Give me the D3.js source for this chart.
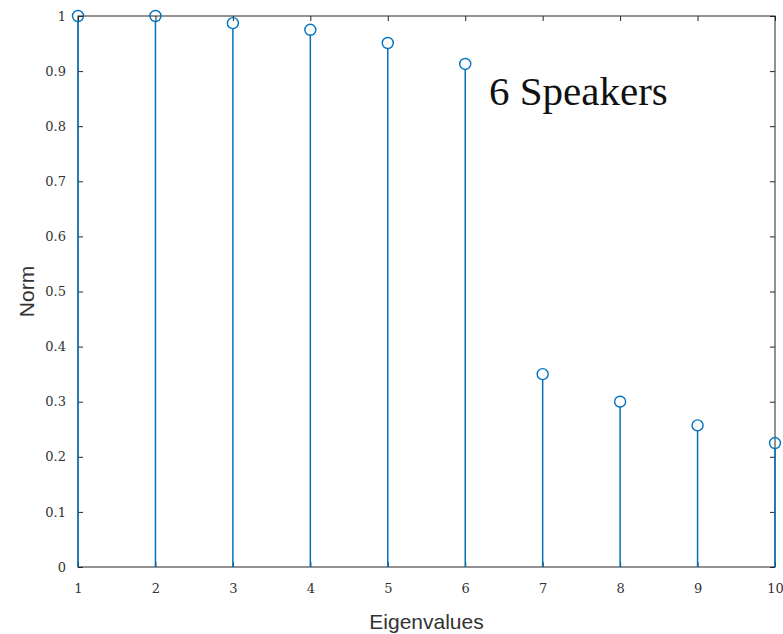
<!DOCTYPE html>
<html><head><meta charset="utf-8">
<script src="https://d3js.org/d3.v7.min.js"></script>
<style>body{margin:0;background:#fff;}svg{display:block;}</style>
</head><body>
<script>
const categories = [1,2,3,4,5,6,7,8,9,10];
const normValues = [1.0, 1.0, 0.987, 0.975, 0.951, 0.913, 0.350, 0.300, 0.257, 0.225];
const yTicks = [0,0.1,0.2,0.3,0.4,0.5,0.6,0.7,0.8,0.9,1];
const xTicks = [1,2,3,4,5,6,7,8,9,10];

const W=783,H=634;
const m={left:78,top:16,right:775,bottom:567};
const svg=d3.select("body").append("svg").attr("width",W).attr("height",H);
const x=d3.scaleLinear().domain([1,10]).range([m.left,m.right]);
const y=d3.scaleLinear().domain([0,1]).range([m.bottom,m.top]);
const axisColor="#262626", stemColor="#0072BD";
const tickFont="'DejaVu Serif', serif";

svg.append("rect").attr("x",m.left).attr("y",m.top).attr("width",m.right-m.left).attr("height",m.bottom-m.top)
  .attr("fill","none").attr("stroke",axisColor).attr("stroke-width",1);

const xa=svg.append("g").attr("transform",`translate(0,${m.bottom})`)
  .call(d3.axisBottom(x).tickValues(xTicks).tickSize(-5).tickFormat(d3.format("d")).tickPadding(17));
const ya=svg.append("g").attr("transform",`translate(${m.left},0)`)
  .call(d3.axisLeft(y).tickValues(yTicks).tickSize(-5).tickFormat(d=>d===0||d===1?String(d):d3.format(".1f")(d)).tickPadding(12));
const xt=svg.append("g").attr("transform",`translate(0,${m.top})`)
  .call(d3.axisTop(x).tickValues(xTicks).tickSize(-5).tickFormat(""));
const yr=svg.append("g").attr("transform",`translate(${m.right},0)`)
  .call(d3.axisRight(y).tickValues(yTicks).tickSize(-5).tickFormat(""));
[xa,ya,xt,yr].forEach(g=>{
  g.select(".domain").remove();
  g.selectAll("line").attr("stroke",axisColor);
  g.selectAll("text").attr("fill","#333").style("font-family",tickFont).style("font-size","13px");
});

const g=svg.append("g");
g.selectAll("line.stem").data(categories).enter().append("line")
  .attr("x1",(d)=>x(d)).attr("x2",d=>x(d))
  .attr("y1",y(0)).attr("y2",(d,i)=>y(normValues[i])+5)
  .attr("stroke",stemColor).attr("stroke-width",1.5);
g.selectAll("circle").data(categories).enter().append("circle")
  .attr("cx",d=>x(d)).attr("cy",(d,i)=>y(normValues[i])).attr("r",5.5)
  .attr("fill","none").attr("stroke",stemColor).attr("stroke-width",1.4);

svg.append("text").attr("x",(m.left+m.right)/2).attr("y",629).attr("text-anchor","middle")
  .style("font-family","'Liberation Sans', Arial, sans-serif").style("font-size","21px").attr("fill","#333").text("Eigenvalues");
svg.append("text").attr("transform",`translate(34,${(m.top+m.bottom)/2}) rotate(-90)`).attr("text-anchor","middle")
  .style("font-family","'Liberation Sans', Arial, sans-serif").style("font-size","21px").attr("fill","#333").text("Norm");

svg.append("text").attr("x",489).attr("y",105)
  .style("font-family","'Liberation Serif', 'Times New Roman', serif").style("font-size","41px").attr("fill","#111").text("6 Speakers");
</script>
</body></html>
